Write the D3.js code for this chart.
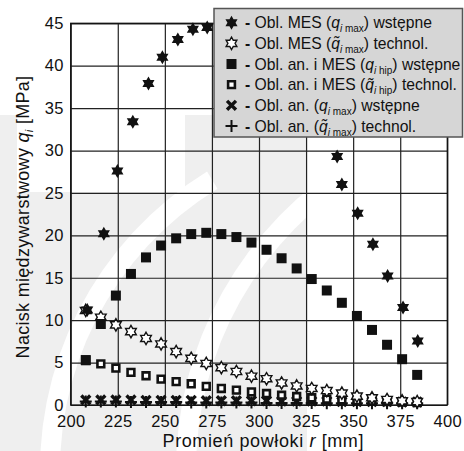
<!DOCTYPE html>
<html>
<head>
<meta charset="utf-8">
<script src="https://cdn.jsdelivr.net/npm/d3@7"></script>
<style>
  body { margin: 0; background: #fff; }
  text { font-family: "Liberation Sans", Arial, sans-serif; fill: #111; }
</style>
</head>
<body>
<div id="chart"></div>
<script>
// radius positions [mm]
const rGrid = [208, 216, 224, 232, 240, 248, 256, 264, 272, 280, 288, 296,
               304, 312, 320, 328, 336, 344, 352, 360, 368, 376, 384];
const rMesPre = [208.8, 217.6, 224.8, 233, 241.3, 248.7, 256.9, 264.9, 272.5, 280.8, 288.8, 296.8,
                 304.8, 312.8, 320.8, 328.8, 341.5, 344, 352.4, 360.5, 368.3, 376.5, 384.3];

// pressures [MPa]
const mesPre  = [11.2, 20.2, 27.6, 33.4, 37.9, 41.0, 43.1, 44.3, 44.5, 44.6, 44.3, 43.6,
                 42.4, 40.8, 38.6, 35.5, 29.3, 26.0, 22.6, 18.95, 15.2, 11.5, 7.55];
const mesTech = [11.15, 10.35, 9.45, 8.65, 7.85, 7.2, 6.3, 5.5, 4.9, 4.4, 3.95, 3.4,
                 3.1, 2.6, 2.25, 1.95, 1.7, 1.4, 1.05, 0.85, 0.65, 0.5, 0.4];
const hipPre  = [5.3, 9.55, 12.9, 15.45, 17.4, 18.8, 19.65, 20.15, 20.3, 20.15, 19.8, 19.15,
                 18.3, 17.3, 16.1, 14.85, 13.5, 12.05, 10.5, 8.85, 7.1, 5.4, 3.55];
const hipTech = [5.25, 4.85, 4.35, 3.85, 3.45, 3.05, 2.75, 2.5, 2.2, 1.95, 1.75, 1.55,
                 1.35, 1.15, 1.0, 0.85, 0.7, 0.6, 0.5, 0.45, 0.4, 0.35, 0.3];
const anPre   = [0.6, 0.6, 0.6, 0.6, 0.55, 0.55, 0.55, 0.55, 0.5, 0.5, 0.5, 0.5,
                 0.5, 0.45, 0.45, 0.45, 0.45, 0.4, 0.4, 0.4, 0.4, 0.35, 0.35];
const anTech  = [0.4, 0.4, 0.4, 0.35, 0.35, 0.35, 0.35, 0.3, 0.3, 0.3, 0.3, 0.3,
                 0.25, 0.25, 0.25, 0.25, 0.2, 0.2, 0.2, 0.2, 0.2, 0.2, 0.2];

const xTicks = [200, 225, 250, 275, 300, 325, 350, 375, 400];
const yTicks = [0, 5, 10, 15, 20, 25, 30, 35, 40, 45];

const legendPre  = ["Obl. MES (", "Obl. MES (", "Obl. an. i MES (", "Obl. an. i MES (", "Obl. an. (", "Obl. an. ("];
const legendSub  = [" max", " max", " hip", " hip", " max", " max"];
const legendPost = [") wstępne", ") technol.", ") wstępne", ") technol.", ") wstępne", ") technol."];
const legendTilde = [false, true, false, true, false, true];

const W = 464, H = 451;
const margin = {top: 23.3, right: 16.7, bottom: 46, left: 70.7};
const width = W - margin.left - margin.right,
      height = H - margin.top - margin.bottom;

const svg = d3.select("#chart").append("svg")
    .attr("width", W)
    .attr("height", H);

// faint watermark in the background
const wm = svg.append("g");
wm.append("path")
    .attr("d", "M0,192H307V451H0Z M185,115H307V192H185Z M0,115H17V192H0Z")
    .attr("fill", "#efefef");
wm.append("path")
    .attr("d", d3.arc()({innerRadius: 330, outerRadius: 350, startAngle: -1.65, endAngle: -0.55}))
    .attr("transform", "translate(390,470)")
    .attr("fill", "#fff");
wm.append("path")
    .attr("d", d3.arc()({innerRadius: 344, outerRadius: 364, startAngle: -1.65, endAngle: -0.6}))
    .attr("transform", "translate(540,470)")
    .attr("fill", "#fff");

const g = svg.append("g")
    .attr("transform", "translate(" + margin.left + "," + margin.top + ")");

const x = d3.scaleLinear().domain([200, 400]).range([0, width]);
const y = d3.scaleLinear().domain([0, 45]).range([height, 0]);

// grid
g.append("g")
    .attr("class", "grid")
    .call(d3.axisLeft(y).tickValues(yTicks).tickSize(-width).tickFormat(""))
    .call(s => s.select(".domain").remove())
    .selectAll("line").attr("stroke", "#222").attr("stroke-width", 1.2);
g.append("g")
    .attr("class", "grid")
    .attr("transform", "translate(0," + height + ")")
    .call(d3.axisBottom(x).tickValues(xTicks).tickSize(-height).tickFormat(""))
    .call(s => s.select(".domain").remove())
    .selectAll("line").attr("stroke", "#222").attr("stroke-width", 1.2);
g.append("rect")
    .attr("width", width).attr("height", height)
    .attr("fill", "none").attr("stroke", "#111").attr("stroke-width", 1.3);

// axes labels
g.append("g")
    .attr("transform", "translate(0," + height + ")")
    .call(d3.axisBottom(x).tickValues(xTicks).tickSize(0).tickPadding(10))
    .call(s => s.select(".domain").remove())
    .selectAll("text").attr("font-size", 16.5).attr("fill", "#111")
    .style("font-family", "'Liberation Sans', Arial, sans-serif")
    .style("letter-spacing", "0.3px");
g.append("g")
    .call(d3.axisLeft(y).tickValues(yTicks).tickSize(0).tickPadding(7))
    .call(s => s.select(".domain").remove())
    .selectAll("text").attr("font-size", 16.5).attr("fill", "#111")
    .style("font-family", "'Liberation Sans', Arial, sans-serif")
    .style("letter-spacing", "0.3px");

// custom symbols
const hexagram = {
  draw(ctx, size) {
    const R = Math.sqrt(size), r = R / Math.sqrt(3);
    for (let k = 0; k < 12; k++) {
      const a = -Math.PI / 2 + k * Math.PI / 6, rr = k % 2 ? r : R;
      if (k) ctx.lineTo(rr * Math.cos(a), rr * Math.sin(a));
      else ctx.moveTo(rr * Math.cos(a), rr * Math.sin(a));
    }
    ctx.closePath();
  }
};
const cross = {
  draw(ctx, size) {
    const R = Math.sqrt(size);
    ctx.moveTo(-R, -R); ctx.lineTo(R, R);
    ctx.moveTo(R, -R); ctx.lineTo(-R, R);
  }
};
const plus = {
  draw(ctx, size) {
    const R = Math.sqrt(size);
    ctx.moveTo(-R, 0); ctx.lineTo(R, 0);
    ctx.moveTo(0, -R); ctx.lineTo(0, R);
  }
};

const styles = [
  {type: hexagram, size: 49, fill: "#111", stroke: "none", sw: 0},
  {type: hexagram, size: 38, fill: "#fff", stroke: "#111", sw: 1.4},
  {type: d3.symbolSquare, size: 100, fill: "#111", stroke: "none", sw: 0},
  {type: d3.symbolSquare, size: 46, fill: "#fff", stroke: "#111", sw: 2.6},
  {type: cross, size: 20, fill: "none", stroke: "#111", sw: 3.4},
  {type: plus, size: 36, fill: "none", stroke: "#111", sw: 2}
];

const series = [
  {r: rMesPre, v: mesPre, s: 0},
  {r: rGrid, v: mesTech, s: 1},
  {r: rGrid, v: hipPre, s: 2},
  {r: rGrid, v: hipTech, s: 3},
  {r: rGrid, v: anPre, s: 4},
  {r: rGrid, v: anTech, s: 5}
];

// draw order: plus, cross, open squares, open stars, filled squares, filled stars
[5, 4, 3, 1, 2, 0].forEach(i => {
  const ser = series[i], st = styles[ser.s];
  g.append("g").selectAll("path")
    .data(ser.v.map((v, j) => ({r: ser.r[j], v: v})))
    .join("path")
    .attr("transform", d => "translate(" + x(d.r) + "," + y(d.v) + ")")
    .attr("d", d3.symbol().type(st.type).size(st.size))
    .attr("fill", st.fill)
    .attr("stroke", st.stroke)
    .attr("stroke-width", st.sw);
});

// axis titles
svg.append("text")
    .attr("x", margin.left + width / 2 + 4)
    .attr("y", 447)
    .attr("text-anchor", "middle")
    .attr("font-size", 18)
    .attr("textLength", 201)
    .attr("lengthAdjust", "spacing")
    .call(t => {
      t.append("tspan").text("Promień powłoki ");
      t.append("tspan").attr("font-style", "italic").text("r");
      t.append("tspan").text(" [mm]");
    });

svg.append("text")
    .attr("transform", "translate(28.5,217) rotate(-90)")
    .attr("text-anchor", "middle")
    .attr("font-size", 18)
    .style("letter-spacing", "0.3px")
    .call(t => {
      t.append("tspan").text("Nacisk międzywarstwowy ");
      t.append("tspan").attr("font-style", "italic").text("q");
      t.append("tspan").attr("font-style", "italic").attr("font-size", 11).attr("dy", 4).text("i");
      t.append("tspan").attr("dy", -4).text(" [MPa]");
    });

// legend
const lg = svg.append("g");
lg.append("rect")
    .attr("x", 214).attr("y", 8.5)
    .attr("width", 248.5).attr("height", 128.5)
    .attr("fill", "#d6d6d6").attr("stroke", "#555").attr("stroke-width", 1.5);

const rowY = d3.scaleLinear().domain([0, 5]).range([22.7, 126]);
legendPre.forEach((pre, i) => {
  const st = styles[i], cy = rowY(i);
  lg.append("path")
    .attr("transform", "translate(231.5," + cy + ")")
    .attr("d", d3.symbol().type(st.type).size(st.size))
    .attr("fill", st.fill)
    .attr("stroke", st.stroke)
    .attr("stroke-width", st.sw);
  lg.append("text")
    .attr("x", 245).attr("y", cy + 5.5)
    .attr("font-size", 15.7).attr("font-weight", "bold")
    .text("-");
  const t = lg.append("text")
    .attr("x", 254.5).attr("y", cy + 5.5)
    .attr("font-size", 15.7);
  t.append("tspan").text(pre);
  t.append("tspan").attr("font-style", "italic").text(legendTilde[i] ? "q\u0303" : "q");
  t.append("tspan").attr("font-style", "italic").attr("font-size", 10).attr("dy", 4).text("i");
  t.append("tspan").attr("font-size", 10).text(legendSub[i]);
  t.append("tspan").attr("dy", -4).text(legendPost[i]);
});
</script>
</body>
</html>
